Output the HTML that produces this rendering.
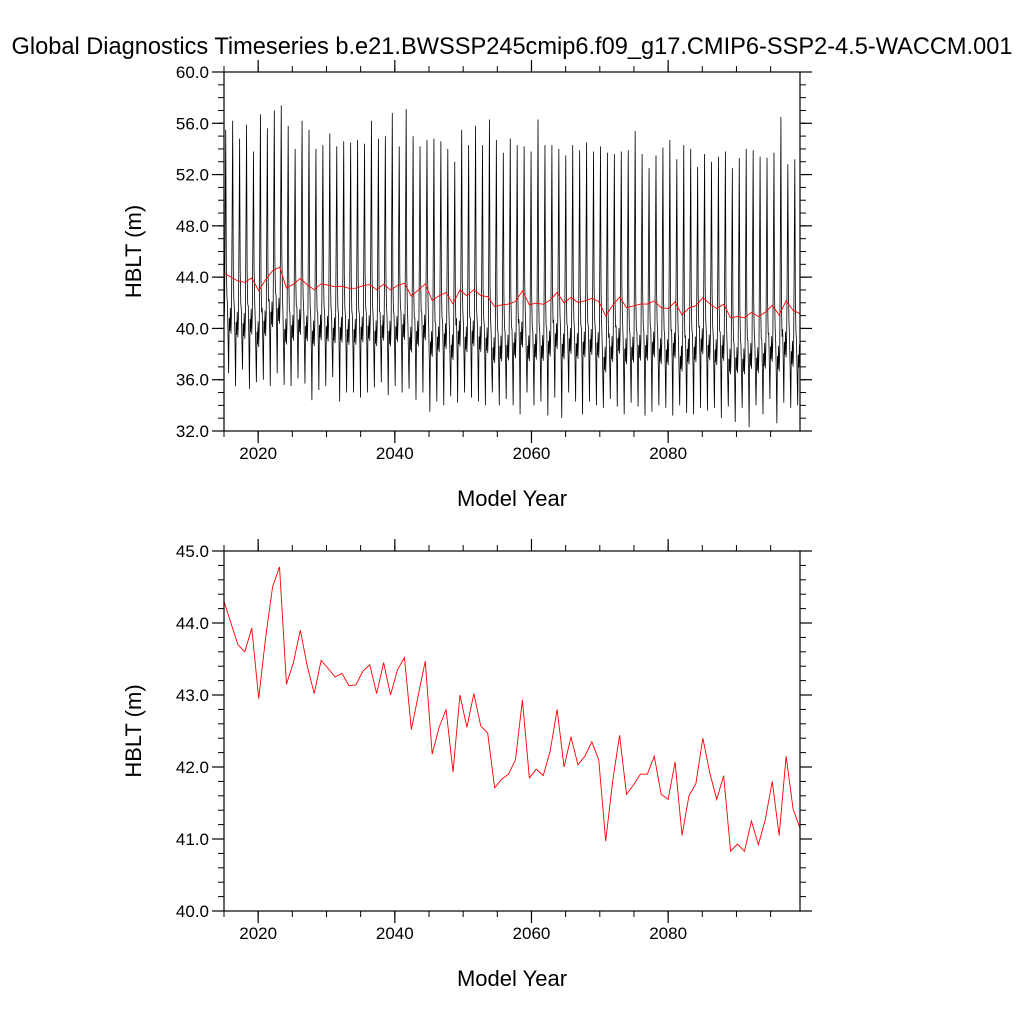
<!DOCTYPE html>
<html><head><meta charset="utf-8"><style>body{margin:0;background:#fff}svg{display:block}text{font-family:"Liberation Sans",sans-serif}</style></head>
<body>
<svg id="c" width="1024" height="1024" viewBox="0 0 1024 1024">
<text x="512" y="54" font-size="23.6" text-anchor="middle">Global Diagnostics Timeseries b.e21.BWSSP245cmip6.f09_g17.CMIP6-SSP2-4.5-WACCM.001</text>
</svg>
<script>
const xTicks=[2020,2040,2060,2080];
const annual=[44.3,44.0,43.7,43.6,43.93,42.95,43.8,44.5,44.78,43.15,43.45,43.9,43.4,43.02,43.48,43.37,43.25,43.3,43.13,43.14,43.33,43.42,43.02,43.45,43.0,43.35,43.52,42.52,43.0,43.47,42.18,42.55,42.8,41.93,43.0,42.55,43.02,42.57,42.47,41.71,41.83,41.9,42.1,42.93,41.85,41.97,41.88,42.22,42.8,42.0,42.42,42.03,42.15,42.35,42.1,40.97,41.8,42.44,41.62,41.75,41.9,41.9,42.15,41.62,41.55,42.07,41.05,41.6,41.77,42.4,41.92,41.55,41.88,40.83,40.93,40.83,41.25,40.92,41.27,41.8,41.05,42.15,41.42,41.15];
const peaks=[55.5,56.2,54.8,55.9,53.8,56.7,55.6,57.0,57.4,55.8,54.0,56.2,55.5,54.0,54.3,55.2,54.2,54.6,54.5,54.7,54.4,56.2,54.8,55.0,56.8,54.2,57.1,55.0,54.2,54.7,54.8,54.6,54.0,53.0,55.5,54.3,55.8,54.3,56.3,54.7,53.7,54.8,54.3,54.2,53.8,56.3,54.3,54.3,54.0,53.5,54.3,53.9,54.5,53.8,54.2,53.7,53.6,53.8,53.9,55.4,53.6,52.5,53.5,54.1,54.7,53.2,54.3,54.0,52.6,53.6,53.0,53.4,53.8,52.5,53.3,54.0,53.9,53.4,53.3,53.7,56.5,52.8,53.2,52.4];
const troughs=[36.3,36.5,35.5,36.8,35.3,35.8,36.0,35.5,36.5,35.6,35.5,36.1,35.7,34.4,35.2,35.5,36.2,34.3,35.0,35.0,34.6,35.0,35.4,35.8,34.8,35.5,35.0,35.3,34.4,35.0,33.5,34.3,34.0,34.7,34.2,35.0,34.6,34.3,34.0,35.0,34.0,34.5,34.0,33.3,35.0,34.0,34.3,33.2,34.6,33.0,35.0,34.3,33.3,34.3,34.0,33.8,34.5,33.9,33.3,34.2,33.9,33.2,33.5,34.0,33.8,33.2,34.0,33.4,33.3,33.8,33.6,33.8,33.0,33.9,32.7,33.8,32.3,34.0,33.3,34.5,32.6,34.2,33.8,34.0];
const topYTicks=[32,36,40,44,48,52,56,60];
const botYTicks=[40,41,42,43,44,45];
const NS='http://www.w3.org/2000/svg';
const svg=document.getElementById('c');
function mk(t,a,p){const e=document.createElementNS(NS,t);for(const k in a)e.setAttribute(k,a[k]);(p||svg).appendChild(e);return e;}
const L=224,R=800,X0=2015,X1=2099.3;
function xs(y){return L+(y-X0)/(X1-X0)*(R-L);}
const n=annual.length;
function xi(i){return L+i/(n-1)*(R-L);}
function panel(top,bot,ymin,ymax,ticks,minor,name){
  const g=mk('g',{});
  
  
  const ys=v=>bot-(v-ymin)/(ymax-ymin)*(bot-top);
  for(let v=ymin;v<=ymax+1e-9;v+=minor){const y=ys(v);mk('line',{x1:L-6,x2:L,y1:y,y2:y,stroke:'#000','stroke-width':1},g);mk('line',{x1:R,x2:R+6,y1:y,y2:y,stroke:'#000','stroke-width':1},g);}
  ticks.forEach(v=>{const y=ys(v);mk('line',{x1:L-12,x2:L,y1:y,y2:y,stroke:'#000','stroke-width':1.2},g);mk('line',{x1:R,x2:R+12,y1:y,y2:y,stroke:'#000','stroke-width':1.2},g);
    const t=mk('text',{x:L-15,y:y+6,'font-size':17,'text-anchor':'end'},g);t.textContent=v.toFixed(1);
    });
  for(let yr=2015;yr<=2099;yr+=5){const x=xs(yr);mk('line',{x1:x,x2:x,y1:bot,y2:bot+6,stroke:'#000'},g);mk('line',{x1:x,x2:x,y1:top-6,y2:top,stroke:'#000'},g);}
  xTicks.forEach(v=>{const x=xs(v);mk('line',{x1:x,x2:x,y1:bot,y2:bot+12,stroke:'#000','stroke-width':1.2},g);mk('line',{x1:x,x2:x,y1:top-12,y2:top,stroke:'#000','stroke-width':1.2},g);
    const t=mk('text',{x:x,y:bot+28,'font-size':17,'text-anchor':'middle'},g);t.textContent=v;
    });
  const xt=mk('text',{x:(L+R)/2,y:bot+75,'font-size':22,'text-anchor':'middle'},g);xt.textContent='Model Year';
  
  const cy=(top+bot)/2;
  const yt=mk('text',{x:141,y:cy,'font-size':22,'text-anchor':'middle',transform:`rotate(-90 141 ${cy})`},g);yt.textContent='HBLT (m)';
  
  return {g,ys};
}
const p1=panel(72,431,32,60,topYTicks,1,'top-panel');
let pts=[];
const m=Math.min(n,peaks.length,troughs.length);
for(let i=0;i<m;i++){
  const mid=annual[i]-3.2;
  const seq=[mid+1,mid-1.5,troughs[i],mid,mid-1,mid+0.8,mid-1.2,mid+0.5,(peaks[i]+mid)/2,peaks[i],mid+4,mid+1.5];
  const x0=xi(i)-(R-L)/(n-1)*0.5;
  seq.forEach((v,k)=>{const x=Math.max(L,Math.min(R,x0+k/12*(R-L)/(n-1)));pts.push(x.toFixed(2)+','+p1.ys(v).toFixed(2));});
}
const bl=mk('polyline',{points:pts.join(' '),fill:'none',stroke:'#000','stroke-width':0.8},p1.g);


const r1=mk('polyline',{points:annual.map((v,i)=>xi(i).toFixed(2)+','+p1.ys(v).toFixed(2)).join(' '),fill:'none',stroke:'#f00','stroke-width':0.9},p1.g);


const f1=mk('rect',{x:L,y:72,width:R-L,height:359,fill:'none',stroke:'#000','stroke-width':1.2},p1.g);


const p2=panel(551,911,40,45,botYTicks,0.2,'bottom-panel');
const r2=mk('polyline',{points:annual.map((v,i)=>xi(i).toFixed(2)+','+p2.ys(v).toFixed(2)).join(' '),fill:'none',stroke:'#f00','stroke-width':0.9},p2.g);


const f2=mk('rect',{x:L,y:551,width:R-L,height:360,fill:'none',stroke:'#000','stroke-width':1.2},p2.g);


</script>
</body></html>
